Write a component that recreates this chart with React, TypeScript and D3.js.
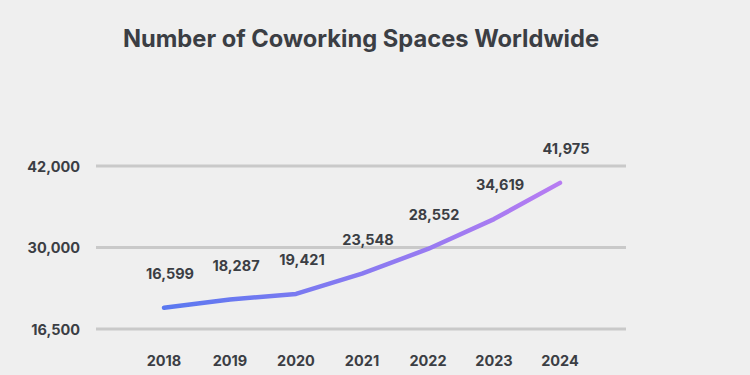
import React from "react";
import * as d3 from "d3";

const years = ["2018", "2019", "2020", "2021", "2022", "2023", "2024"];
const spaces = [16599, 18287, 19421, 23548, 28552, 34619, 41975];
const tickLabels = ["16,500", "30,000", "42,000"];
const title = "Number of Coworking Spaces Worldwide";

const W = 750;
const H = 375;
const textColor = "#3b3e44";
const font = "Inter, Lato, sans-serif";

export default function App() {
  const x = d3.scalePoint<string>().domain(years).range([164, 560]);
  // gridlines: evenly spaced labelled bands
  const yGrid = d3.scalePoint<string>().domain(tickLabels).range([329, 166]);
  // data scale
  const y = d3.scaleLinear().domain([12300, 45400]).range([329, 166]);

  const line = d3
    .line<number>()
    .x((_, i) => x(years[i]) as number)
    .y((d) => y(d));

  const fmt = d3.format(",");

  return (
    <svg
      width={W}
      height={H}
      style={{ position: "absolute", left: 0, top: 0, background: "#efefef" }}
    >
      <rect width={W} height={H} fill="#efefef" />
      <defs>
        <linearGradient id="lg" x1={x(years[0])} x2={x(years[years.length - 1])} gradientUnits="userSpaceOnUse" y1={0} y2={0}>
          <stop offset="0%" stopColor="#5a78f0" />
          <stop offset="100%" stopColor="#b77cf2" />
        </linearGradient>
      </defs>
      <text
        x={361}
        y={47}
        textAnchor="middle"
        fontFamily={font}
        fontWeight={700}
        fontSize={23.7}
        fill={textColor}
      >
        {title}
      </text>
      {tickLabels.map((t) => (
        <g key={t}>
          <line
            x1={96}
            x2={626}
            y1={yGrid(t)}
            y2={yGrid(t)}
            stroke="#c9c9c9"
            strokeWidth={3}
          />
          <text
            x={80}
            y={(yGrid(t) as number) + 5.5}
            textAnchor="end"
            fontFamily={font}
            fontWeight={700}
            fontSize={14.5}
            fill={textColor}
          >
            {t}
          </text>
        </g>
      ))}
      <path
        d={line(spaces) || ""}
        fill="none"
        stroke="url(#lg)"
        strokeWidth={4.5}
        strokeLinecap="round"
        strokeLinejoin="round"
      />
      {spaces.map((v, i) => (
        <text
          key={years[i]}
          x={(x(years[i]) as number) + 6}
          y={y(v) - 29}
          textAnchor="middle"
          fontFamily={font}
          fontWeight={700}
          fontSize={14.5}
          fill={textColor}
        >
          {fmt(v)}
        </text>
      ))}
      {years.map((yr) => (
        <text
          key={yr}
          x={x(yr)}
          y={366}
          textAnchor="middle"
          fontFamily={font}
          fontWeight={700}
          fontSize={14.5}
          fill={textColor}
        >
          {yr}
        </text>
      ))}
    </svg>
  );
}
